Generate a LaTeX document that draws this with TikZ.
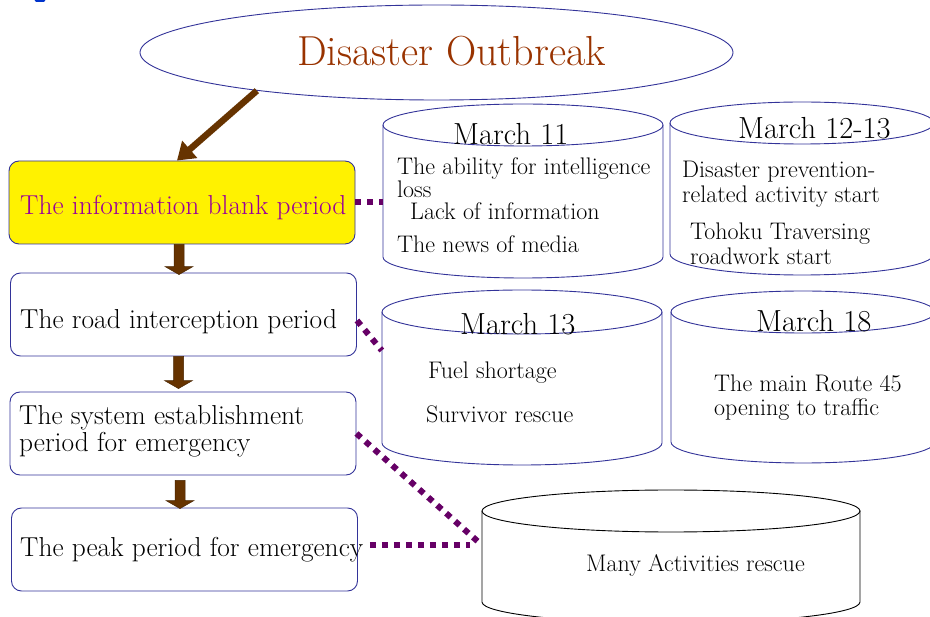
\documentclass[tikz,border=0pt]{standalone}
\usetikzlibrary{calc,arrows.meta,shapes.geometric}
\definecolor{bordblue}{RGB}{51,51,153}
\definecolor{titlered}{RGB}{153,51,0}
\definecolor{arrbrown}{RGB}{102,51,0}
\definecolor{dotpurple}{RGB}{102,0,102}
\definecolor{txtpurple}{RGB}{153,0,153}
\definecolor{markblue}{RGB}{0,51,204}
\tikzset{
 period/.style={draw=bordblue, line width=0.9pt, rounded corners=10pt, minimum width=346pt, minimum height=83pt, inner sep=0pt},
 lbl/.style={anchor=base west, inner sep=0pt, font=\fontsize{27.4}{32}\selectfont},
 ctxt/.style={anchor=base west, inner sep=0pt, font=\fontsize{24}{28}\selectfont},
 mtxt/.style={anchor=base west, inner sep=0pt, font=\fontsize{30.5}{34}\selectfont},
 dots/.style={draw=dotpurple, line width=6pt, dash pattern=on 6pt off 6pt},
 blockarrow/.style={fill=arrbrown, draw=arrbrown!70!black, line width=0.5pt},
 cylnode/.style={inner sep=0pt, draw=none},
}
\newcommand\cylout[6]{%
  \draw[#1, line width=0.9pt] (#2-#5,#3) -- (#2-#5,#4) arc[start angle=180,end angle=0,x radius=#5,y radius=#6] -- (#2+#5,#3);
  \draw[#1, line width=0.9pt] (#2,#3) ellipse[x radius=#5, y radius=#6];
}
% #1 start coordinate name, #2 tip coordinate name
\newcommand\blockdown[2]{%
  \draw[blockarrow] ($(#2 |- #1)+(-5,0)$) -- ($(#2)+(-5,-8)$) -- ($(#2)+(-14,-8)$) -- (#2) -- ($(#2)+(14,-8)$) -- ($(#2)+(5,-8)$) -- ($(#2 |- #1)+(5,0)$) -- cycle;
}
\begin{document}
\begin{tikzpicture}[x=1pt,y=-1pt]
\clip (0,0) rectangle (930,617);
\fill[white] (0,0) rectangle (930,617);
% partial mark at top-left
\fill[markblue] (30,-6) -- (50,-6) -- (44,2) -- (36,2) -- cycle;

% title
\node[draw=bordblue, line width=0.9pt, ellipse, minimum width=593pt, minimum height=95pt, inner sep=0pt] (e) at (436.5,52.5) {};
\node[font=\fontsize{42}{48}\selectfont, text=titlered, anchor=base, inner sep=0pt] (title) at (451.5,66) {Disaster Outbreak};

% period boxes
\node[period, fill=yellow] (b1) at (182,202.5) {};
\node[period] (b2) at (183.5,314.5) {};
\node[period] (b3) at (183,433.5) {};
\node[period] (b4) at (184.5,549.5) {};
\node[lbl, text=txtpurple] (t1) at (20,215) {The information blank period};
\node[lbl] (t2) at (20,329) {The road interception period};
\node[lbl] (t3a) at (19,425) {The system establishment};
\node[lbl] (t3b) at (19,452) {period for emergency};
\node[lbl] (t4) at (20,557) {The peak period for emergency};

% arrows
\draw[arrbrown, line width=6.5pt, -{Triangle[length=17pt,width=22pt]}] (e.192) -- ($(b1.north)+(-5,0)$);
\coordinate (a1s) at (b1.south);
\coordinate (a1e) at ($(b2.north)+(-4.5,2)$);
\coordinate (a2s) at (b2.south);
\coordinate (a2e) at ($(b3.north)+(-4.5,-3)$);
\coordinate (a3s) at ($(b3.south)+(0,5)$);
\coordinate (a3e) at ($(b4.north)+(-4.5,1)$);
\blockdown{a1s}{a1e}
\blockdown{a2s}{a2e}
\blockdown{a3s}{a3e}

% cylinders
\cylout{bordblue}{523}{125}{257}{140}{21}
\node[cylnode, minimum width=280pt, minimum height=132pt] (c1) at (523,191) {};
\node[mtxt] (m11) at (453,145) {March 11};
\node[ctxt] (c1a) at (397,175) {The ability for intelligence};
\node[ctxt] (c1b) at (397,198) {loss};
\node[ctxt] (c1c) at (410,219.5) {Lack of information};
\node[ctxt] (c1d) at (397,253) {The news of media};

\cylout{bordblue}{802}{123}{254}{132}{21}
\node[cylnode, minimum width=264pt, minimum height=131pt] (c2) at (802,188.5) {};
\node[mtxt] (m12) at (738,139) {March 12-13};
\node[ctxt] (c2a) at (682,178) {Disaster prevention-};
\node[ctxt] (c2b) at (682,203) {related activity start};
\node[ctxt] (c2c) at (690,240) {Tohoku Traversing};
\node[ctxt] (c2d) at (690,265) {roadwork start};

\cylout{bordblue}{522}{312}{443}{140}{22}
\node[cylnode, minimum width=280pt, minimum height=131pt] (c3) at (522,377.5) {};
\node[mtxt] (m13) at (460,335) {March 13};
\node[ctxt] (c3a) at (428,379) {Fuel shortage};
\node[ctxt] (c3b) at (426,423) {Survivor rescue};

\cylout{bordblue}{803}{312}{442}{132}{21}
\node[cylnode, minimum width=264pt, minimum height=130pt] (c4) at (803,377) {};
\node[mtxt] (m18) at (756,332) {March 18};
\node[ctxt] (c4a) at (714,392) {The main Route 45};
\node[ctxt] (c4b) at (714,416) {opening to traffic};

\cylout{black}{671}{511}{602}{189}{21}
\node[cylnode, minimum width=378pt, minimum height=110pt] (c5) at (671,545) {};
\node[ctxt] (c5a) at (586,572) {Many Activities rescue};

% dotted connectors
\draw[dots] (b1.east) -- (b1.east -| c1.west);
\draw[dots] ($(b2.east)+(0,6)$) -- ($(c3.west)+(0,-27)$);
\draw[dots] (b3.east) -- (c5.west);
\coordinate (d4s) at ($(b4.east)+(12,0)$);
\draw[dots] (d4s |- c5.west) -- ($(c5.west)+(-12,0)$);
\end{tikzpicture}
\end{document}
